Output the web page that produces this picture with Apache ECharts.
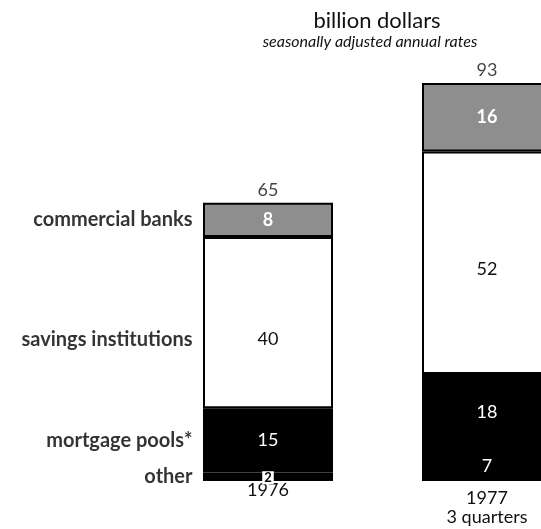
<!DOCTYPE html>
<html>
<head>
<meta charset="utf-8">
<script src="https://cdn.jsdelivr.net/npm/echarts@6/dist/echarts.min.js"></script>
<style>html,body{margin:0;padding:0;background:#fff}#c{width:541px;height:529px}</style>
</head>
<body>
<div id="c"></div>
<script>
const categories = ['1976', '1977\n3 quarters'];
const seriesNames = ['other', 'mortgage pools*', 'savings institutions', 'commercial banks'];
const other = [2, 7];
const mortgagePools = [15, 18];
const savingsInstitutions = [40, 52];
const commercialBanks = [8, 16];
const totals = [65, 93];
const titleText = 'billion dollars';
const subtitleText = 'seasonally adjusted annual rates';

const FONT = 'Lato, "Open Sans", sans-serif';
const NUM = 18;
const values = [other, mortgagePools, savingsInstitutions, commercialBanks];

// midpoints of 1976 segments for the side labels
let acc = 0;
const mids = values.map(v => { const m = acc + v[0] / 2; acc += v[0]; return m; });

const baseBar = {
  type: 'bar', stack: 'total', barWidth: 130,
  itemStyle: { borderColor: '#000', borderWidth: 1.5 },
  label: { show: true, position: 'inside', fontSize: NUM, fontFamily: FONT }
};

const chart = echarts.init(document.getElementById('c'));
chart.setOption({
  animation: false,
  backgroundColor: '#fff',
  graphic: [
    { type: 'text', x: 377, y: 21, style: { text: titleText, fontSize: 22, fontFamily: FONT, fill: '#111', textAlign: 'center', textVerticalAlign: 'middle' } },
    { type: 'text', x: 370, y: 42, style: { text: subtitleText, fontSize: 16, fontStyle: 'italic', fontFamily: FONT, fill: '#111', textAlign: 'center', textVerticalAlign: 'middle' } }
  ],
  grid: { left: 158.5, right: -55.5, bottom: 48, top: 53, containLabel: false, outerBoundsMode: 'none' },
  xAxis: {
    type: 'category', data: categories,
    axisLine: { show: false }, axisTick: { show: false },
    axisLabel: {
      margin: 0, color: '#111', fontFamily: FONT, fontSize: NUM,
      formatter: v => v.indexOf('\n') >= 0
        ? v.split('\n').map((s, i) => (i === 0 ? '{b|' : '{c|') + s + '}').join('\n')
        : '{a|' + v + '}',
      rich: {
        a: { fontSize: NUM, lineHeight: 19, fontFamily: FONT, color: '#111' },
        b: { fontSize: NUM, lineHeight: 34, fontFamily: FONT, color: '#111' },
        c: { fontSize: NUM, lineHeight: 4, fontFamily: FONT, color: '#111' }
      }
    }
  },
  yAxis: { type: 'value', min: 0, max: 100, show: false, splitLine: { show: false } },
  series: [
    Object.assign({}, baseBar, {
      name: seriesNames[0],
      itemStyle: { color: '#000', borderColor: '#000', borderWidth: 1.5 },
      label: Object.assign({}, baseBar.label, { color: '#fff' }),
      data: other.map((v, i) => i === 0
        ? { value: v, label: { color: '#000', backgroundColor: '#fff', fontSize: 13, fontWeight: 'bold', padding: [0, 2, 0, 2], offset: [0, 1] } }
        : v)
    }),
    Object.assign({}, baseBar, {
      name: seriesNames[1],
      itemStyle: { color: '#000', borderColor: '#000', borderWidth: 1.5 },
      label: Object.assign({}, baseBar.label, { color: '#fff' }),
      data: mortgagePools.slice()
    }),
    Object.assign({}, baseBar, {
      name: seriesNames[2],
      itemStyle: { color: '#fff', borderColor: '#000', borderWidth: 2 },
      label: Object.assign({}, baseBar.label, { color: '#111' }),
      data: savingsInstitutions.map((v, i) => i === 0 ? { value: v, label: { offset: [0, 17] } } : { value: v, label: { offset: [0, 6] } })
    }),
    Object.assign({}, baseBar, {
      name: seriesNames[3],
      itemStyle: { color: '#8e8e8e', borderColor: '#000', borderWidth: 2 },
      label: Object.assign({}, baseBar.label, { color: '#fff', fontWeight: 'bold' }),
      data: commercialBanks.slice()
    }),
    {
      type: 'scatter', name: 'totals', symbolSize: 1, itemStyle: { color: 'rgba(0,0,0,0)' },
      label: { show: true, position: 'top', distance: 3, fontSize: NUM, fontFamily: FONT, color: '#111', formatter: p => p.value[1] },
      data: totals.map((t, i) => [i, t])
    },
    {
      type: 'scatter', name: 'names', symbolSize: 1, itemStyle: { color: 'rgba(0,0,0,0)' },
      label: { show: true, position: 'left', distance: 75, fontSize: 20, fontWeight: 'bold', fontFamily: FONT, color: '#000', formatter: p => p.name },
      data: mids.map((m, i) => ({ name: seriesNames[i], value: [0, m], label: i === 2 ? { offset: [0, 17] } : {} }))
    }
  ]
});
</script>
</body>
</html>
